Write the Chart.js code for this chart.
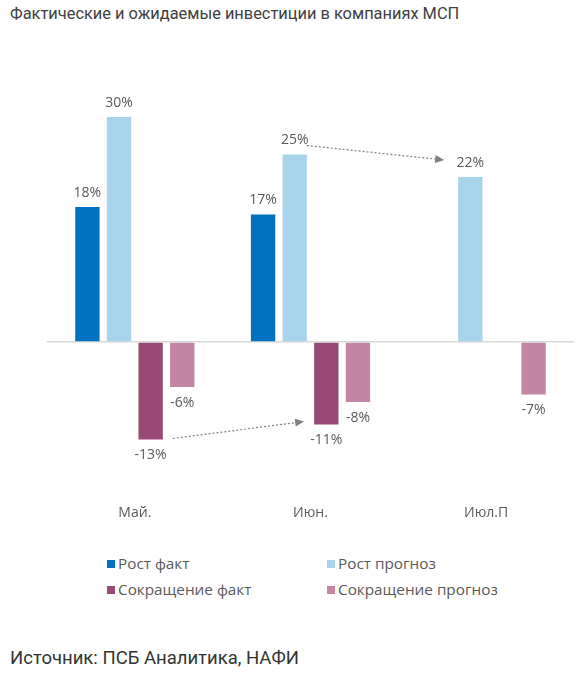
<!DOCTYPE html>
<html>
<head>
<meta charset="utf-8">
<script src="https://cdn.jsdelivr.net/npm/chart.js@4"></script>
<style>
  body { margin: 0; background: #fff; }
  #wrap { position: relative; width: 583px; height: 677px; overflow: hidden; font-family: 'Open Sans', sans-serif; }
  #title { position: absolute; left: 10px; top: 4px; font-size: 16.4px; color: #404040; font-family: Roboto, sans-serif; }
  #source { position: absolute; left: 10px; top: 647px; font-size: 18.5px; color: #333; font-family: Roboto, sans-serif; }
  #chartBox { position: absolute; left: 0; top: 40px; width: 583px; height: 490px; }
  #legend { position: absolute; left: 0; top: 553px; width: 583px; }
  .li { position: absolute; font-size: 15.3px; color: #595959; white-space: nowrap; }
  .li span { display: inline-block; width: 8px; height: 8px; margin-right: 3px; vertical-align: 1px; }
</style>
</head>
<body>
<div id="wrap">
  <div id="title">Фактические и ожидаемые инвестиции в компаниях МСП</div>
  <div id="chartBox"><canvas id="myChart"></canvas></div>
  <div id="legend"></div>
  <div id="source">Источник: ПСБ Аналитика, НАФИ</div>
</div>
<script>
const categories = ['Май.', 'Июн.', 'Июл.П'];
const growthFact = [18, 17, null];
const growthForecast = [30, 25, 22];
const cutFact = [-13, -11, null];
const cutForecast = [-6, -8, -7];
const seriesNames = ['Рост факт', 'Рост прогноз', 'Сокращение факт', 'Сокращение прогноз'];
const colors = ['#0070C0', '#A8D4EB', '#974B74', '#C285A6'];

const ctx = document.getElementById('myChart');

// подписи значений над/под столбцами
const valueLabels = {
  id: 'valueLabels',
  afterDatasetsDraw(chart) {
    const c = chart.ctx;
    c.save();
    c.font = '14px "Open Sans"';
    c.fillStyle = '#595959';
    c.textAlign = 'center';
    chart.data.datasets.forEach((ds, i) => {
      chart.getDatasetMeta(i).data.forEach((bar, j) => {
        const v = ds.data[j];
        if (v === null) return;
        if (v >= 0) {
          c.textBaseline = 'bottom';
          c.fillText(v + '%', bar.x, bar.y - 7);
        } else {
          c.textBaseline = 'top';
          c.fillText(v + '%', bar.x, bar.y + 9);
        }
      });
    });
    c.restore();
  }
};

// пунктирные стрелки
const arrows = {
  id: 'arrows',
  afterDatasetsDraw(chart) {
    const c = chart.ctx;
    const list = [
      { from: [2, 0, 10, -1], to: [2, 1, -10, -3] },
      { from: [1, 1, 0, -9], to: [1, 2, -14, -17] }
    ];
    c.save();
    c.strokeStyle = '#808080';
    c.fillStyle = '#808080';
    c.lineWidth = 1.2;
    list.forEach(a => {
      const b1 = chart.getDatasetMeta(a.from[0]).data[a.from[1]];
      const b2 = chart.getDatasetMeta(a.to[0]).data[a.to[1]];
      const x1 = b1.x + b1.width / 2 + a.from[2], y1 = b1.y + a.from[3];
      const x2 = b2.x - b2.width / 2 + a.to[2], y2 = b2.y + a.to[3];
      const ang = Math.atan2(y2 - y1, x2 - x1);
      const hx = x2 - 9 * Math.cos(ang), hy = y2 - 9 * Math.sin(ang);
      c.setLineDash([2, 2]);
      c.beginPath();
      c.moveTo(x1, y1);
      c.lineTo(hx, hy);
      c.stroke();
      c.setLineDash([]);
      c.beginPath();
      c.moveTo(x2, y2);
      c.lineTo(hx - 4 * Math.sin(ang), hy + 4 * Math.cos(ang));
      c.lineTo(hx + 4 * Math.sin(ang), hy - 4 * Math.cos(ang));
      c.closePath();
      c.fill();
    });
    c.restore();
  }
};

const chart = new Chart(ctx, {
  type: 'bar',
  data: {
    labels: categories,
    datasets: [growthFact, growthForecast, cutFact, cutForecast].map((d, i) => ({
      label: seriesNames[i],
      data: d,
      backgroundColor: colors[i],
      borderWidth: 0,
      categoryPercentage: 0.72,
      barPercentage: 0.77
    }))
  },
  options: {
    responsive: true,
    maintainAspectRatio: false,
    animation: false,
    layout: { padding: { left: 47, right: 9, top: 47, bottom: 8 } },
    plugins: { legend: { display: false }, tooltip: { enabled: false } },
    scales: {
      x: {
        grid: { display: false, drawTicks: false },
        border: { display: false },
        ticks: { padding: 13, color: '#595959', font: { family: 'Open Sans', size: 14 } },
        afterFit(scale) { scale.height = 30; }
      },
      y: {
        min: -20,
        max: 34,
        ticks: { display: false, stepSize: 1 },
        border: { display: false },
        grid: {
          drawTicks: false,
          lineWidth: 1.5,
          color: c => c.tick.value === 0 ? '#D9D9D9' : 'transparent'
        },
        afterFit(scale) { scale.width = 0; }
      }
    }
  },
  plugins: [valueLabels, arrows]
});

// легенда в две колонки
const legend = document.getElementById('legend');
const pos = [[107, 0], [327, 0], [107, 26], [327, 26]];
seriesNames.forEach((name, i) => {
  const el = document.createElement('div');
  el.className = 'li';
  el.style.left = pos[i][0] + 'px';
  el.style.top = pos[i][1] + 'px';
  el.innerHTML = '<span style="background:' + colors[i] + '"></span>' + name;
  legend.appendChild(el);
});
</script>
</body>
</html>
